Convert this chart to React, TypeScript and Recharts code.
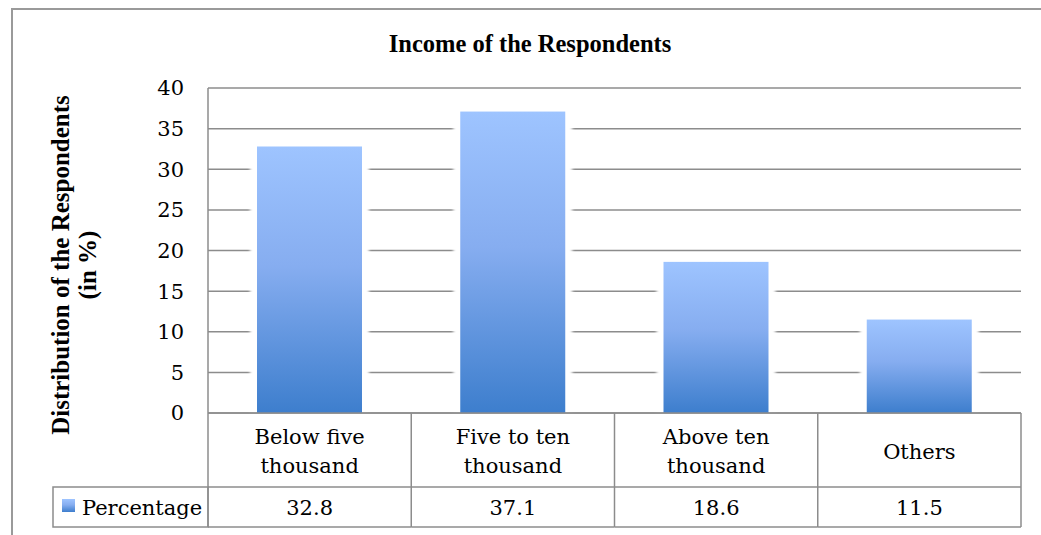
import React from 'react';
import { BarChart, Bar, XAxis, YAxis, CartesianGrid } from 'recharts';

// ---- data ----
const categories = ['Below five thousand', 'Five to ten thousand', 'Above ten thousand', 'Others'];
const categoryLabelLines = [
  ['Below five', 'thousand'],
  ['Five to ten', 'thousand'],
  ['Above ten', 'thousand'],
  ['Others'],
];
const percentages = [32.8, 37.1, 18.6, 11.5];
const yTicks = [0, 5, 10, 15, 20, 25, 30, 35, 40];
const seriesName = 'Percentage';
const chartTitle = 'Income of the Respondents';
const yLabelLines = ['Distribution of the Respondents', '(in %)'];

const data = categories.map((c, i) => ({ category: c, value: percentages[i] }));

// ---- layout ----
const W = 1041;
const H = 535;
const PLOT_LEFT = 208;
const PLOT_RIGHT = 1021;
const PLOT_TOP = 88;
const PLOT_BOTTOM = 413;
const X_AXIS_H = H - PLOT_BOTTOM;
const Y_AXIS_W = 80;
const BAND = (PLOT_RIGHT - PLOT_LEFT) / categories.length;
const ROW_SPLIT = 487;
const TABLE_BOTTOM = 527;
const LEGEND_LEFT = 53;
const LINE = '#8c8c8c';
const FONT = '"DejaVu Serif", serif';
const BOLD_FONT = '"Liberation Serif", "Times New Roman", serif';
const FS = 21;

function TableTick(props: any) {
  const { x, index, payload } = props;
  const half = BAND / 2;
  const lines = categoryLabelLines[index] ?? [String(payload.value)];
  const lineH = 29;
  const mid = 451;
  const first = mid - ((lines.length - 1) * lineH) / 2 + 7.5;
  return (
    <g>
      {index === 0 && (
        <g>
          <line x1={x - half} x2={x - half} y1={PLOT_BOTTOM} y2={TABLE_BOTTOM} stroke={LINE} strokeWidth={1.5} />
          <rect
            x={LEGEND_LEFT}
            y={ROW_SPLIT}
            width={x - half - LEGEND_LEFT}
            height={TABLE_BOTTOM - ROW_SPLIT}
            fill="none"
            stroke={LINE}
            strokeWidth={1.5}
          />
          <rect x={LEGEND_LEFT + 9} y={ROW_SPLIT + 12} width={13} height={13} fill="url(#barGrad)" />
          <text x={LEGEND_LEFT + 29} y={515} fontFamily={FONT} fontSize={FS} fill="#000">
            {seriesName}
          </text>
        </g>
      )}
      <line x1={x + half} x2={x + half} y1={PLOT_BOTTOM} y2={TABLE_BOTTOM} stroke={LINE} strokeWidth={1.5} />
      <line x1={x - half} x2={x + half} y1={ROW_SPLIT} y2={ROW_SPLIT} stroke={LINE} strokeWidth={1.5} />
      <line x1={x - half} x2={x + half} y1={TABLE_BOTTOM} y2={TABLE_BOTTOM} stroke={LINE} strokeWidth={1.5} />
      {lines.map((l: string, i: number) => (
        <text key={i} x={x} y={first + i * lineH} textAnchor="middle" fontFamily={FONT} fontSize={FS} fill="#000">
          {l}
        </text>
      ))}
      <text x={x} y={515} textAnchor="middle" fontFamily={FONT} fontSize={FS} fill="#000">
        {percentages[index]}
      </text>
    </g>
  );
}

function ShadowBar(props: any) {
  const { x, y, width, height } = props;
  if (height <= 0) return null;
  return (
    <g>
      <rect x={x - 7} y={y} width={width + 14} height={Math.max(0, height - 2)} fill="#fff" filter="url(#soft)" />
      <rect x={x} y={y} width={width} height={height} fill="url(#barGrad)" />
    </g>
  );
}

function YLabel() {
  const cy = 265;
  const xs = [60, 87];
  return (
    <g>
      {yLabelLines.map((l, i) => (
        <text
          key={i}
          x={xs[i]}
          y={cy}
          transform={`rotate(-90 ${xs[i]} ${cy})`}
          textAnchor="middle"
          dominantBaseline="central"
          fontFamily={BOLD_FONT}
          fontWeight="bold"
          fontSize={25}
          fill="#000"
        >
          {l}
        </text>
      ))}
    </g>
  );
}

export default function App() {
  return (
    <div style={{ position: 'absolute', left: 0, top: 0, width: W, height: H, background: '#fff' }}>
      <div
        style={{
          position: 'absolute',
          left: 11,
          top: 8,
          width: W - 11,
          height: H - 8,
          borderLeft: '2px solid #9a9a9a',
          borderTop: '2px solid #9a9a9a',
          boxSizing: 'border-box',
        }}
      />
      <div
        style={{
          position: 'absolute',
          left: 0,
          top: 32,
          width: 1060,
          textAlign: 'center',
          fontFamily: BOLD_FONT,
          fontWeight: 'bold',
          fontSize: 24.5,
          lineHeight: '24px',
          color: '#000',
        }}
      >
        {chartTitle}
      </div>
      <div style={{ position: 'absolute', left: 0, top: 0 }}>
        <BarChart
          width={W}
          height={H}
          data={data}
          margin={{ top: PLOT_TOP, right: W - PLOT_RIGHT, bottom: 0, left: PLOT_LEFT - Y_AXIS_W }}
        >
          <defs>
            <linearGradient id="barGrad" x1="0" y1="0" x2="0" y2="1">
              <stop offset="0%" stopColor="#9ec4ff" />
              <stop offset="45%" stopColor="#86adf0" />
              <stop offset="100%" stopColor="#3d7ecd" />
            </linearGradient>
            <filter id="soft" x="-20%" y="-5%" width="140%" height="110%">
              <feGaussianBlur stdDeviation="1.5" />
            </filter>
          </defs>
          <CartesianGrid vertical={false} stroke={LINE} strokeWidth={1.5} />
          <XAxis
            dataKey="category"
            height={X_AXIS_H}
            interval={0}
            tickLine={false}
            axisLine={{ stroke: LINE, strokeWidth: 1.5 }}
            tick={<TableTick />}
          />
          <YAxis
            width={Y_AXIS_W}
            domain={[0, 40]}
            ticks={yTicks}
            interval={0}
            tickLine={false}
            tickMargin={18}
            axisLine={{ stroke: LINE, strokeWidth: 1.5 }}
            tick={{ fontFamily: FONT, fontSize: FS, fill: '#000' }}
            label={() => <YLabel />}
          />
          <Bar dataKey="value" name={seriesName} barSize={105} shape={<ShadowBar />} isAnimationActive={false} />
        </BarChart>
      </div>
    </div>
  );
}
